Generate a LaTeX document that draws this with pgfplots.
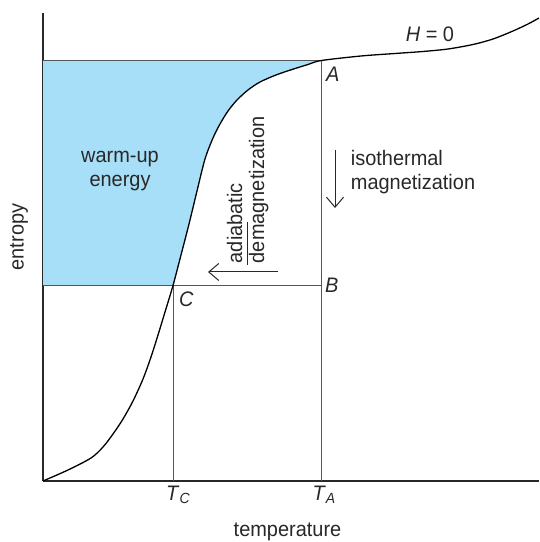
\documentclass[border=0pt]{standalone}
\usepackage{fontspec}
\setmainfont[FakeStretch=0.95]{Liberation Sans}
\usepackage{pgfplots}
\pgfplotsset{compat=1.18}
\usepgfplotslibrary{fillbetween}
\usetikzlibrary{arrows.meta}

\definecolor{warmblue}{RGB}{168,223,248}
\definecolor{ink}{RGB}{40,40,40}
\definecolor{guide}{RGB}{85,85,85}

\pgfplotstableread{
x y
0 0
25 11
48 23
60 34
70 47
80 62
90 80
100 102
108 124
115 146
122 169
130 195.5
138 226
146 257
154 290
162 322
170 343
177 357
185 370
194 381
205 391
217 399
233 406
249 411.5
265 416.5
278.5 420.5
318 425
352 427.5
380 429.5
405 432
430 436.5
450 442
470 450
485 457
496 463
}\curvedata

\begin{document}
\begin{tikzpicture}[font=\fontsize{21bp}{24bp}\selectfont, text=ink]
  \begin{axis}[
    scale only axis,
    width = 496bp, height = 468bp,
    at = {(0,0)}, anchor = south west,
    xmin = 0, xmax = 496,
    ymin = 0, ymax = 468,
    axis lines = left,
    axis line style = {-, line width = 1.1bp, color = ink},
    xtick = \empty, ytick = \empty,
    clip = false,
  ]
    % S(T) curve at H = 0 (path only, used for the shading)
    \addplot[name path=curve, smooth, draw=none] table {\curvedata};
    \path[name path=topline] (axis cs:0,420.5) -- (axis cs:278.5,420.5);
    \addplot[fill=warmblue, draw=none] coordinates {(0,195.5) (130,195.5) (130,420.5) (0,420.5)} -- cycle;
    \addplot[warmblue, draw=none] fill between[of=curve and topline,
      soft clip={domain=129.8:278.5}];

    % cycle lines
    \addplot[guide, line width=1.2bp] coordinates {(0,420.5) (278.5,420.5)};
    \addplot[guide, line width=0.8bp] coordinates {(0,195.5) (278.5,195.5)};
    \addplot[guide, line width=0.8bp] coordinates {(130,0) (130,195.5)};
    \addplot[guide, line width=0.8bp] coordinates {(278.5,0) (278.5,420.5)};

    % the curve itself
    \addplot[smooth, line width=1.3bp, color=black] table {\curvedata};

    % arrows
    \addplot[ink, line width=1bp, -{Straight Barb[length=10bp, width=17bp]}]
      coordinates {(292,331) (292,273)};
    \addplot[ink, line width=1bp, -{Straight Barb[length=10bp, width=17bp]}]
      coordinates {(235,209) (165,209)};
    \addplot[ink, line width=1bp] coordinates {(204.3,259) (204.3,216)};

    % labels
    \node[anchor=base west, inner sep=0] at (axis cs:362.6,439) {\textit{H} = 0};
    \node[anchor=base west, inner sep=0] at (axis cs:283,399) {\textit{A}};
    \node[anchor=base west, inner sep=0] at (axis cs:282,188) {\textit{B}};
    \node[anchor=base west, inner sep=0] at (axis cs:136,174.3) {\textit{C}};
    \node[anchor=base, inner sep=0] at (axis cs:77,318.5) {warm-up};
    \node[anchor=base, inner sep=0] at (axis cs:77,294.5) {energy};
    \node[anchor=base west, inner sep=0] at (axis cs:307.7,315) {isothermal};
    \node[anchor=base west, inner sep=0] at (axis cs:307.7,291) {magnetization};
    \node[anchor=base west, inner sep=0, rotate=90] at (axis cs:199,217.7) {adiabatic};
    \node[anchor=base west, inner sep=0, rotate=90] at (axis cs:221,217.7) {demagnetization};
    \node[anchor=base west, inner sep=0] at (axis cs:123,-19) {\textit{T}\textsubscript{\textit{C}}};
    \node[anchor=base west, inner sep=0] at (axis cs:269.3,-19) {\textit{T}\textsubscript{\textit{A}}};
    \node[anchor=base, inner sep=0] at (axis cs:244.5,-55) {temperature};
    \node[anchor=center, inner sep=0, rotate=90] at (axis cs:-24,244) {entropy};
  \end{axis}
  \path[use as bounding box] (-43bp,-61bp) rectangle (496bp,481bp);
\end{tikzpicture}
\end{document}
